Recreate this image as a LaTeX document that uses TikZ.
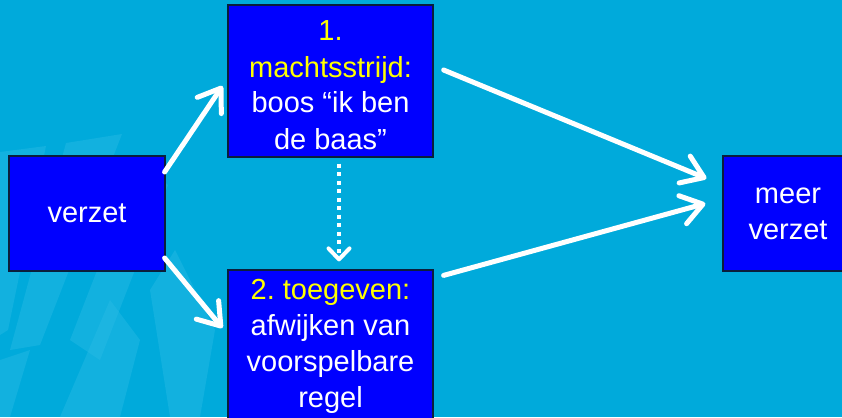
\documentclass[tikz,border=0pt]{standalone}
\usepackage{fontspec}
\setmainfont{Liberation Sans}
\usetikzlibrary{arrows.meta}
\definecolor{bg}{RGB}{0,170,219}
\definecolor{stripe}{RGB}{45,188,230}
\definecolor{boxblue}{RGB}{0,0,255}
\definecolor{boxline}{RGB}{10,30,60}
\definecolor{ylw}{RGB}{255,255,0}
\frenchspacing
\begin{document}
\begin{tikzpicture}[x=1pt,y=-1pt,
  stepbox/.style={draw=boxline, line width=1.2pt, fill=boxblue, text=white,
    font=\fontsize{29}{36}\selectfont, align=center, inner sep=0pt},
  arr/.style={draw=white, line width=5pt, line cap=round,
    -{Straight Barb[length=21pt,width=29pt,line cap=round,line join=round]}},
  dotarr/.style={draw=white, line width=4pt, dash pattern=on 4pt off 4.5pt,
    -{Straight Barb[length=11pt,width=21pt,line cap=round,line join=round]}},
  band/.style={fill=stripe, opacity=0.4, draw=none}
]
\useasboundingbox (0,0) rectangle (842,417);
\clip (0,0) rectangle (842,417);
\fill[bg] (0,0) rectangle (842,417);
% faint background stripes
\fill[band] (0,152) -- (46,146) -- (8,330) -- (0,335) -- cycle;
\fill[band] (66,143) -- (122,134) -- (40,345) -- (10,350) -- cycle;
\fill[band] (140,160) -- (168,185) -- (100,360) -- (70,340) -- cycle;
\fill[band] (0,360) -- (30,350) -- (10,417) -- (0,417) -- cycle;
\fill[band] (150,290) -- (175,250) -- (215,330) -- (200,417) -- (170,417) -- cycle;
\fill[band] (60,417) -- (110,300) -- (140,340) -- (120,417) -- cycle;
% nodes
\node[stepbox, minimum width=156pt, minimum height=115pt] (v) at (87,213.5) {verzet};
\node[stepbox, minimum width=205pt, minimum height=152pt, text height=136pt, text depth=0pt] (m) at (330.5,81)
  {\textcolor{ylw}{1.}\\\textcolor{ylw}{machtsstrijd:}\\boos “ik ben\\de baas”};
\node[stepbox, minimum width=205pt, minimum height=152pt] (t) at (330.5,346)
  {\textcolor{ylw}{2. toegeven:}\\afwijken van\\voorspelbare\\regel};
\node[stepbox, minimum width=130pt, minimum height=115pt] (r) at (788,213.5) {meer\\verzet};
% connectors
\draw[arr] ([xshift=-1pt,yshift=41.5pt]v.east) -- ([xshift=-5pt,yshift=-5pt]m.west);
\draw[arr] ([xshift=-1pt,yshift=-44.5pt]v.east) -- ([xshift=-5pt,yshift=18pt]t.west);
\draw[arr] ([xshift=10pt,yshift=11pt]m.east) -- ([xshift=-16pt,yshift=35pt]r.west);
\draw[arr] ([xshift=10pt,yshift=-6pt]t.north east) -- ([xshift=-17pt,yshift=10pt]r.west);
\draw[dotarr] ([xshift=8.5pt,yshift=-6pt]m.south) -- ([xshift=8.5pt,yshift=8pt]t.north);
\end{tikzpicture}
\end{document}
